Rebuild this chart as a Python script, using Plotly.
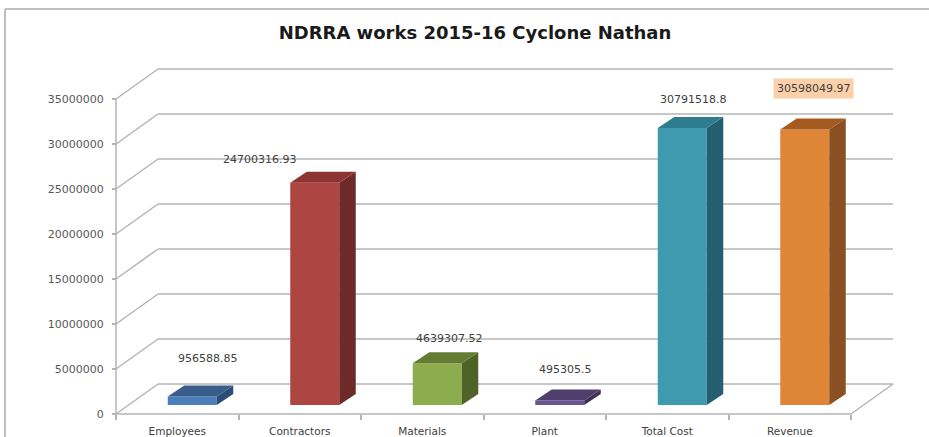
import plotly.graph_objects as go

# ---------------- data ----------------
categories = ["Employees", "Contractors", "Materials", "Plant", "Total Cost", "Revenue"]
values = [956588.85, 24700316.93, 4639307.52, 495305.5, 30791518.8, 30598049.97]
value_labels = ["956588.85", "24700316.93", "4639307.52", "495305.5", "30791518.8", "30598049.97"]
y_ticks = [0, 5000000, 10000000, 15000000, 20000000, 25000000, 30000000, 35000000]
title_text = "NDRRA works 2015-16 Cyclone Nathan"

# ---------------- styles ----------------
front_colors = ["#4a7ebb", "#ad4542", "#8cac4e", "#6a5590", "#3f9ab0", "#df8538"]
side_colors = ["#2c4d75", "#6e2a28", "#4f6228", "#3f3151", "#255e6e", "#8a4f22"]
top_colors = ["#385d8a", "#8c3533", "#637c33", "#4f3f6c", "#2e7d8f", "#a55a20"]
label_offsets = [(31, 47), (-40, 32), (27, 34), (21, 40), (26, 37), (24, 50)]  # px (x, up)

PX_X = 122.5      # pixels per category
PX_Y = 9e-6       # pixels per value unit


def ux(px):
    return px / PX_X


def uy(px):
    return px / PX_Y


W, H = 929, 437
ML, MR, MT, MB = 60, 29, 60, 5
PW, PH = W - ML - MR, H - MT - MB

x_range = [-0.5 - ux(56), -0.5 + ux(PW - 56)]
y_range = [-uy(18), uy(PH - 18)]

back_dx, back_dy = ux(42), uy(30)          # wall depth
bar_dx, bar_dy = ux(16.5), uy(11)         # bar depth
bar_shift_x, bar_base = ux(15), uy(9)     # bar placement inside depth
bar_w = ux(49)

grid_col = "#b4b4b4"
shapes = []


def seg(x0, y0, x1, y1, color=grid_col, w=1.5):
    shapes.append(dict(type="line", xref="x", yref="y", x0=x0, y0=y0, x1=x1, y1=y1,
                       line=dict(color=color, width=w), layer="below"))


n = len(categories)
x_left, x_right = -0.5, n - 0.5
for v in y_ticks:
    seg(x_left, v, x_left + back_dx, v + back_dy)
    seg(x_left + back_dx, v + back_dy, x_right + back_dx, v + back_dy)
# front y axis line, floor front edge, floor right edge
seg(x_left, 0, x_left, y_ticks[-1])
seg(x_left, 0, x_right, 0)
seg(x_right, 0, x_right + back_dx, back_dy)

# chart border (left and top edges visible)
border_col = "#bfbfbf"
bx0 = (5 - ML) / PW
bx1 = (W - ML) / PW
by0 = (PH + MT - H) / PH
by1 = (PH + MT - 9) / PH
shapes.append(dict(type="line", xref="paper", yref="paper", x0=bx0, x1=bx1, y0=by1, y1=by1,
                   line=dict(color=border_col, width=2)))
shapes.append(dict(type="line", xref="paper", yref="paper", x0=bx0, x1=bx0, y0=by0, y1=by1,
                   line=dict(color=border_col, width=2)))

fig = go.Figure()

# front faces
xs = [i + bar_shift_x for i in range(n)]
fig.add_trace(go.Bar(x=xs, y=values, base=[bar_base] * n, width=bar_w,
                     marker=dict(color=front_colors, line=dict(width=0)),
                     showlegend=False, hoverinfo="skip"))

# side and top faces
for i, v in enumerate(values):
    xl = xs[i] - bar_w / 2
    xr = xs[i] + bar_w / 2
    b = bar_base
    t = bar_base + v
    fig.add_trace(go.Scatter(
        x=[xr, xr + bar_dx, xr + bar_dx, xr, xr],
        y=[b, b + bar_dy, t + bar_dy, t, b],
        fill="toself", fillcolor=side_colors[i], mode="lines", line=dict(width=0),
        showlegend=False, hoverinfo="skip"))
    fig.add_trace(go.Scatter(
        x=[xl, xl + bar_dx, xr + bar_dx, xr, xl],
        y=[t, t + bar_dy, t + bar_dy, t, t],
        fill="toself", fillcolor=top_colors[i], mode="lines", line=dict(width=0),
        showlegend=False, hoverinfo="skip"))

# dummy trace for category boundary ticks axis
fig.add_trace(go.Scatter(x=[0], y=[0], xaxis="x2", mode="markers",
                         marker=dict(opacity=0), showlegend=False, hoverinfo="skip"))

annotations = []
for i, (lab, v) in enumerate(zip(value_labels, values)):
    ox, oy = label_offsets[i]
    ann = dict(x=i, y=v, xref="x", yref="y", text=lab, showarrow=False,
               xshift=ox, yshift=oy, xanchor="center", yanchor="middle",
               font=dict(family="DejaVu Sans", size=11, color="#404040"))
    if i == n - 1:
        ann.update(bgcolor="#fcd0a8", borderpad=3)
    annotations.append(ann)

axis_pos_y = 18 / PH
fig.update_layout(
    template="none",
    width=W, height=H, autosize=False,
    margin=dict(l=ML, r=MR, t=MT, b=MB, pad=0),
    paper_bgcolor="white", plot_bgcolor="rgba(0,0,0,0)",
    barmode="overlay",
    title=dict(text="<b>" + title_text + "</b>", x=475 / W, xref="container", xanchor="center",
               y=1 - 33 / H, yref="container", yanchor="middle", automargin=False,
               font=dict(family="DejaVu Sans", size=18, color="#1a1a1a")),
    xaxis=dict(range=x_range, tickvals=list(range(n)), ticktext=categories,
               anchor="free", position=axis_pos_y, showgrid=False, zeroline=False,
               showline=False, ticks="", ticklabelstandoff=9, automargin=False,
               tickfont=dict(family="DejaVu Sans", size=10.5, color="#404040")),
    xaxis2=dict(range=x_range, overlaying="x", anchor="free", position=axis_pos_y,
                tickvals=[k - 0.5 for k in range(n + 1)], ticks="outside", ticklen=5,
                tickcolor=grid_col, tickwidth=1.5, showticklabels=False, automargin=False,
                showgrid=False, zeroline=False, showline=False, side="bottom"),
    yaxis=dict(range=y_range, tickvals=y_ticks, ticktext=[str(v) for v in y_ticks],
               anchor="free", position=56 / PW, showgrid=False, zeroline=False,
               showline=False, ticks="outside", ticklen=4, tickcolor=grid_col, tickwidth=1.5,
               ticklabelstandoff=6, automargin=False,
               tickfont=dict(family="DejaVu Sans", size=11, color="#595959")),
    shapes=shapes,
    annotations=annotations,
)

fig.write_html("out.html")
